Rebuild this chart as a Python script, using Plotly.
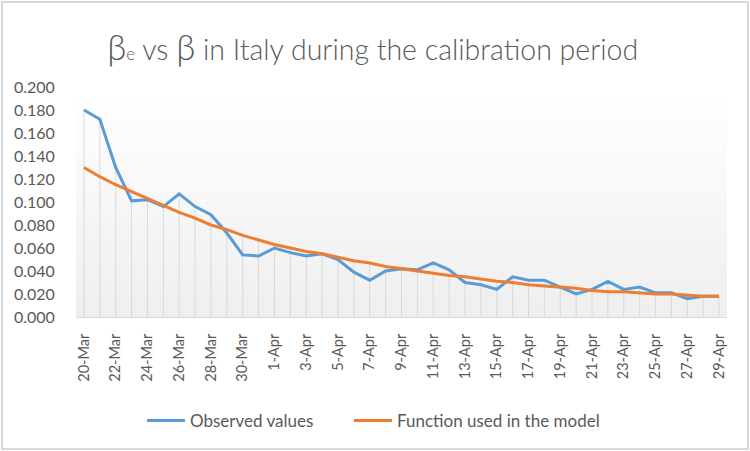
import plotly.graph_objects as go

dates = ["20-Mar", "21-Mar", "22-Mar", "23-Mar", "24-Mar", "25-Mar", "26-Mar", "27-Mar", "28-Mar", "29-Mar",
         "30-Mar", "31-Mar", "1-Apr", "2-Apr", "3-Apr", "4-Apr", "5-Apr", "6-Apr", "7-Apr", "8-Apr",
         "9-Apr", "10-Apr", "11-Apr", "12-Apr", "13-Apr", "14-Apr", "15-Apr", "16-Apr", "17-Apr", "18-Apr",
         "19-Apr", "20-Apr", "21-Apr", "22-Apr", "23-Apr", "24-Apr", "25-Apr", "26-Apr", "27-Apr", "28-Apr",
         "29-Apr"]

observed = [0.180, 0.172, 0.130, 0.101, 0.102, 0.096, 0.107, 0.096, 0.089, 0.073,
            0.054, 0.053, 0.060, 0.056, 0.053, 0.055, 0.050, 0.039, 0.032, 0.040,
            0.042, 0.041, 0.047, 0.041, 0.030, 0.028, 0.024, 0.035, 0.032, 0.032,
            0.026, 0.020, 0.024, 0.031, 0.024, 0.026, 0.021, 0.021, 0.016, 0.018,
            0.018]

model = [0.130, 0.122, 0.115, 0.109, 0.103, 0.097, 0.091, 0.086, 0.080, 0.076,
         0.071, 0.067, 0.063, 0.060, 0.057, 0.055, 0.052, 0.049, 0.047, 0.044,
         0.042, 0.040, 0.038, 0.036, 0.035, 0.033, 0.031, 0.030, 0.028, 0.027,
         0.026, 0.025, 0.023, 0.022, 0.022, 0.021, 0.020, 0.020, 0.019, 0.018,
         0.018]

tick_labels = dates[::2]
y_ticks = [0, 0.02, 0.04, 0.06, 0.08, 0.1, 0.12, 0.14, 0.16, 0.18, 0.2]

W, H = 750, 451
ML, MR, MT, MB = 76, 23, 87, 134
pw, ph = W - ML - MR, H - MT - MB

TXT = "#595959"
FONT = "Lato, Open Sans, sans-serif"

# drop lines from the higher of the two series down to the axis
dx, dy = [], []
for d, o, m in zip(dates, observed, model):
    dx += [d, d, None]
    dy += [0, max(o, m), None]

fig = go.Figure()
fig.add_trace(go.Scatter(x=dx, y=dy, mode="lines", line=dict(color="#d9d9d9", width=1),
                         showlegend=False, hoverinfo="skip"))
fig.add_trace(go.Scatter(x=dates, y=observed, mode="lines", name="Observed values",
                         line=dict(color="#5b9bd5", width=3), legend="legend"))
fig.add_trace(go.Scatter(x=dates, y=model, mode="lines", name="Function used in the model",
                         line=dict(color="#ed7d31", width=3), legend="legend2"))

shapes = []
# gradient plot background
n = 60
for i in range(n):
    t = i / (n - 1)
    c = int(round(255 - (255 - 238) * (1 - t)))
    shapes.append(dict(type="rect", xref="paper", yref="paper", x0=0, x1=1,
                       y0=i / n, y1=(i + 1) / n, fillcolor=f"rgb({c},{c},{c})",
                       line=dict(width=0), layer="below"))
# outer chart border
shapes.append(dict(type="rect", xref="paper", yref="paper",
                   x0=(-ML + 2) / pw, x1=1 + (MR - 2) / pw,
                   y0=(-MB + 2) / ph, y1=1 + (MT - 2) / ph,
                   line=dict(color="#d9d9d9", width=2), fillcolor="rgba(0,0,0,0)", layer="below"))

title = ("<span style='font-size:35px'>β</span><span style='font-size:17px'>e</span> vs "
         "<span style='font-size:35px'>β</span> in Italy during the calibration period")

leg_common = dict(orientation="h", xanchor="left", xref="paper", yanchor="middle",
                  y=-(421 - 317) / ph, font=dict(size=17, color=TXT), itemwidth=38,
                  bgcolor="rgba(0,0,0,0)")

fig.update_layout(
    width=W, height=H,
    margin=dict(l=ML, r=MR, t=MT, b=MB, autoexpand=False),
    paper_bgcolor="white", plot_bgcolor="rgba(0,0,0,0)",
    font=dict(family=FONT, color=TXT, size=16),
    title=dict(text=title, x=0.497, xref="container", xanchor="center", y=1 - 50 / H, yanchor="middle",
               font=dict(size=28.5, color=TXT, family=FONT, weight=300)),
    shapes=shapes,
    showlegend=True,
    legend=dict(x=(142 - ML) / pw, **leg_common),
    legend2=dict(x=(349 - ML) / pw, **leg_common),
    xaxis=dict(type="category", categoryorder="array", categoryarray=dates,
               range=[-0.5, len(dates) - 0.5], tickmode="array", tickvals=tick_labels,
               ticktext=tick_labels, tickangle=-90, showgrid=False, showline=True,
               linecolor="#d9d9d9", linewidth=1, ticks="outside", ticklen=10,
               tickcolor="rgba(0,0,0,0)", tickfont=dict(size=14.5, color=TXT, family=FONT),
               fixedrange=True, automargin=False),
    yaxis=dict(range=[0, 0.2], tickmode="array", tickvals=y_ticks,
               tickformat=".3f", showgrid=False, zeroline=False, showline=False,
               ticks="outside", ticklen=17, tickcolor="rgba(0,0,0,0)",
               tickfont=dict(size=16, color=TXT, family=FONT), fixedrange=True, automargin=False),
)

fig.write_html("out.html", config={"displayModeBar": False},
               post_script="document.body.style.margin='0';")
